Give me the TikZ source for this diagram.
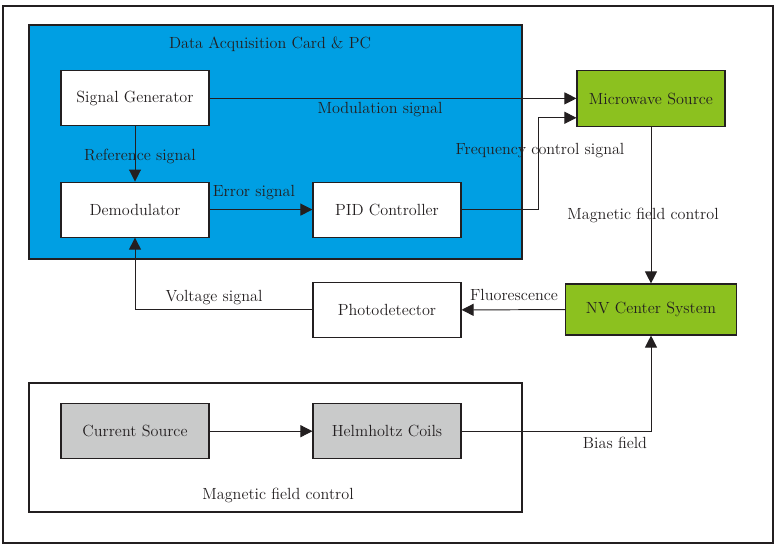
\documentclass[tikz,border=0pt]{standalone}
\usepackage{xcolor}
\usepackage{tikz}
\usetikzlibrary{arrows.meta, positioning, fit, calc, backgrounds}

\definecolor{inkdark}{RGB}{35,31,32}
\definecolor{daqblue}{RGB}{0,159,227}
\definecolor{nvgreen}{RGB}{140,193,31}
\definecolor{coilgray}{RGB}{201,202,202}

\begin{document}
\begin{tikzpicture}[
    font=\fontsize{11.5}{13}\selectfont, text=inkdark,
    block/.style={rectangle, draw=inkdark, line width=0.8pt, fill=white, minimum width=3.7cm, minimum height=1.375cm},
    panel/.style={rectangle, draw=inkdark, line width=0.8pt, inner sep=0pt},
    lbl/.style={inner sep=1pt},
    arr/.style={draw=inkdark, line width=0.7pt, -{Triangle[length=0.3cm, width=0.3cm]}},
    wire/.style={draw=inkdark, line width=0.7pt}
]
\useasboundingbox (0,0) rectangle (19.475,13.75);

% Frames
\node[panel, fit={(0.075,0.175) (19.325,13.6)}] (frame) {};
\node[panel, fill=daqblue, fit={(0.725,7.275) (13.05,13.125)}] (daq) {};
\node[panel, fit={(0.725,0.95) (13.05,4.175)}] (magctl) {};
\node at (6.75, 12.65) (daqtitle) {Data Acquisition Card \& PC};
\node at (6.95, 1.375) (magtitle) {Magnetic field control};

% Blocks
\node[block] (siggen) at (3.375, 11.29) {Signal Generator};
\node[block] (demod) at (3.375, 8.51) {Demodulator};
\node[block] (pid) at (9.675, 8.51) {PID Controller};
\node[block, fill=nvgreen, minimum height=1.4cm] (mw) at (16.275, 11.28) {Microwave Source};
\node[block, fill=nvgreen, minimum width=4.275cm, minimum height=1.275cm] (nv) at (16.275, 6.0125) {NV Center System};
\node[block] (pd) at (9.675, 6.0) {Photodetector};
\node[block, fill=coilgray] (cursrc) at (3.375, 2.97) {Current Source};
\node[block, fill=coilgray] (coils) at (9.675, 2.97) {Helmholtz Coils};

% Connections
\draw[arr] (siggen) -- (demod);
\draw[arr] (demod) -- (pid);
\draw[arr] (siggen.east) -- (siggen.east -| mw.west);
\draw[arr] (pid.east) -- ++(1.925,0) |- ($(mw.west)+(0,-0.475)$);
\draw[arr] (mw) -- (nv);
\draw[arr] (nv) -- (pd);
\draw[arr] (pd.west) -| (demod.south);
\draw[arr] (cursrc) -- (coils);
\draw[arr] (coils.east) -| (nv.south);

% Labels
\node[lbl] (modlbl) at (9.5, 11.0) {Modulation signal};
\node[lbl] (freqlbl) at (13.5, 9.975) {Frequency control signal};
\node[lbl] (reflbl) at (3.5, 9.85) {Reference signal};
\node[lbl] (errlbl) at (6.35, 8.925) {Error signal};
\node[lbl] (mfclbl) at (16.075, 8.375) {Magnetic field control};
\node[lbl] (fluolbl) at (12.85, 6.375) {Fluorescence};
\node[lbl] (voltlbl) at (5.35, 6.3) {Voltage signal};
\node[lbl] (biaslbl) at (15.375, 2.675) {Bias field};

\end{tikzpicture}
\end{document}
